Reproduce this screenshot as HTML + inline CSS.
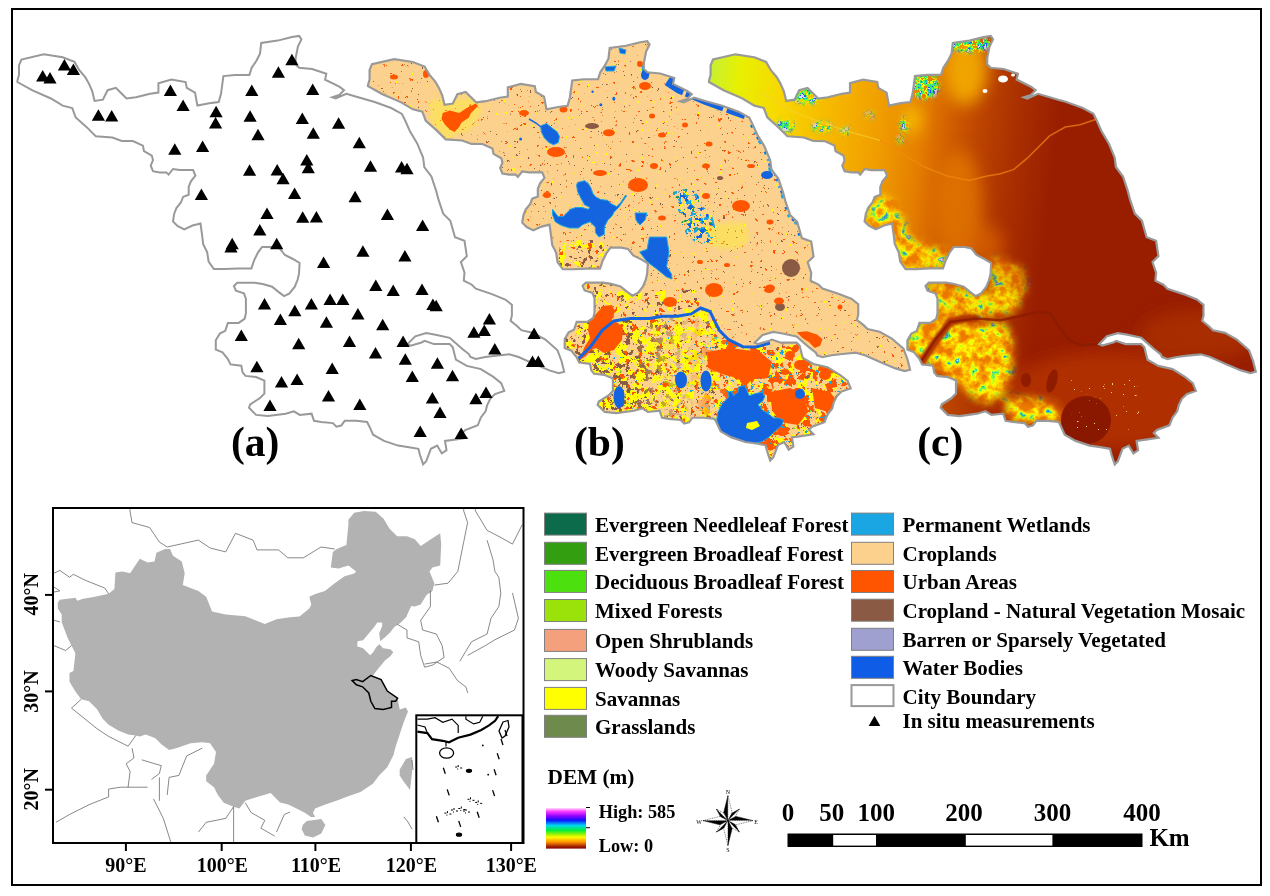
<!DOCTYPE html><html><head><meta charset="utf-8"><title>Study area</title><style>html,body{margin:0;padding:0;background:#fff;width:1270px;height:896px;overflow:hidden}svg{display:block}text{font-family:"Liberation Serif","Times New Roman",serif;font-weight:bold;fill:#000}</style></head><body>
<svg width="1270" height="896" viewBox="0 0 1270 896">
<defs>
<path id="js" d="M709.0,80.8 L710.6,74.9 L710.6,65.4 L713.0,59.5 L735.4,54.3 L754.3,57.2 L766.1,61.9 L770.9,70.2 L776.8,77.2 L780.3,83.2 L783.9,91.4 L786.2,100.9 L794.5,99.7 L799.2,90.2 L807.5,87.9 L813.4,93.8 L818.1,98.5 L827.6,97.3 L841.7,93.8 L850.0,92.6 L850.0,83.2 L863.0,79.6 L877.2,82.0 L878.4,87.9 L886.6,92.6 L889.0,105.6 L900.8,103.2 L910.3,102.0 L912.6,93.8 L915.0,76.1 L926.8,74.9 L941.0,74.9 L943.3,67.8 L948.0,60.7 L951.6,53.6 L952.8,43.0 L969.3,40.6 L983.5,37.1 L990.7,35.9 L993.0,39.4 L989.5,46.5 L987.2,58.3 L987.2,64.3 L990.7,67.8 L1003.7,69.0 L1017.9,73.7 L1016.7,79.6 L1030.9,86.7 L1035.6,90.2 L1030.9,95.0 L1023.8,97.3 L1027.3,98.5 L1038.0,93.8 L1049.8,97.3 L1066.3,102.0 L1082.8,108.0 L1093.5,113.9 L1097.0,121.0 L1101.7,131.6 L1108.8,143.4 L1114.7,157.6 L1115.9,167.0 L1123.0,176.5 L1127.7,190.6 L1130.0,199.4 L1134.8,213.6 L1141.9,220.7 L1146.6,237.2 L1156.1,240.8 L1158.4,256.1 L1152.5,262.0 L1156.1,272.7 L1155.4,280.7 L1163.4,284.7 L1167.4,288.7 L1183.5,294.1 L1196.9,299.5 L1203.5,304.8 L1203.5,315.5 L1202.2,320.9 L1208.9,326.2 L1212.9,330.2 L1225.0,332.9 L1237.0,339.6 L1249.1,350.3 L1253.1,361.0 L1255.8,371.7 L1250.4,373.1 L1241.0,370.4 L1225.0,363.7 L1210.2,357.0 L1200.9,354.3 L1187.5,355.7 L1176.8,357.0 L1167.4,359.0 L1162.0,357.0 L1160.7,354.3 L1154.0,349.0 L1141.3,337.8 L1127.2,334.7 L1117.8,333.1 L1106.9,336.3 L1099.1,344.1 L1102.2,345.6 L1113.1,342.5 L1116.3,340.9 L1125.6,344.1 L1141.3,344.1 L1144.4,347.2 L1145.9,353.4 L1147.5,359.7 L1158.4,365.9 L1172.5,369.1 L1185.0,376.9 L1192.8,383.1 L1195.9,390.9 L1186.6,394.1 L1181.9,398.8 L1178.8,405.0 L1177.2,411.3 L1172.5,417.5 L1169.4,425.3 L1156.9,430.0 L1153.8,433.1 L1158.4,437.8 L1147.5,439.4 L1136.6,440.9 L1138.1,450.3 L1133.4,453.4 L1128.8,445.6 L1122.5,448.8 L1117.8,461.3 L1114.7,464.4 L1111.6,455.0 L1110.0,448.8 L1100.6,447.2 L1089.7,445.6 L1075.6,440.9 L1064.7,434.7 L1061.1,426.7 L1058.7,422.0 L1048.1,420.8 L1036.3,420.8 L1032.8,425.5 L1028.0,426.7 L1024.5,423.1 L1012.7,422.0 L1005.6,420.8 L1003.2,413.7 L991.4,414.9 L985.5,411.3 L977.2,413.7 L959.5,416.1 L947.7,414.9 L940.6,407.8 L941.8,404.3 L951.3,398.3 L956.0,393.6 L956.0,380.6 L947.7,377.1 L937.1,375.9 L934.2,372.4 L932.9,365.7 L922.1,364.4 L919.5,359.0 L914.1,352.3 L907.4,349.6 L907.4,340.3 L911.4,333.6 L916.8,330.9 L919.5,322.9 L930.2,322.9 L936.2,318.8 L937.5,313.5 L937.5,298.7 L935.5,293.4 L927.5,290.7 L925.5,286.0 L928.8,282.7 L936.9,282.7 L946.2,282.7 L954.3,284.0 L963.7,286.7 L970.4,292.1 L975.7,296.1 L981.1,293.4 L986.4,286.7 L989.1,280.0 L990.6,273.7 L991.2,263.0 L984.5,259.0 L976.5,255.0 L971.2,248.3 L964.5,247.0 L953.7,247.0 L949.7,252.3 L945.7,260.4 L943.0,268.4 L929.6,268.4 L916.2,269.1 L905.5,269.1 L900.2,261.7 L898.8,252.3 L894.8,244.3 L893.5,233.6 L892.1,223.5 L884.1,225.5 L875.8,229.3 L869.1,225.9 L864.6,221.5 L865.8,213.7 L868.0,208.1 L872.5,202.5 L874.7,196.9 L880.3,194.7 L880.3,186.9 L882.5,181.3 L887.0,175.7 L884.7,170.1 L871.3,170.1 L864.6,169.0 L860.2,174.6 L858.0,172.4 L851.3,172.4 L844.6,171.2 L842.3,165.7 L844.6,160.1 L843.4,155.6 L835.6,151.2 L834.5,145.6 L824.5,141.1 L813.4,141.0 L804.0,137.5 L787.4,136.3 L778.0,126.9 L767.3,117.4 L763.8,108.0 L754.3,105.6 L742.5,98.5 L723.6,90.2 L709.0,82.0 Z"/>
<clipPath id="clipB"><use href="#js" transform="translate(-334.903,5.972) scale(0.9914,0.9785)"/></clipPath>
<clipPath id="clipC"><use href="#js"/></clipPath>
<linearGradient id="demg" gradientUnits="userSpaceOnUse" x1="712" y1="70" x2="1060" y2="110">
<stop offset="0" stop-color="#c8f030"/>
<stop offset="0.08" stop-color="#e8f000"/>
<stop offset="0.2" stop-color="#f8d800"/>
<stop offset="0.35" stop-color="#f6b800"/>
<stop offset="0.5" stop-color="#f09c00"/>
<stop offset="0.62" stop-color="#e47c00"/>
<stop offset="0.7" stop-color="#d05c00"/>
<stop offset="0.78" stop-color="#bc4400"/>
<stop offset="0.88" stop-color="#aa3000"/>
<stop offset="1" stop-color="#991e00"/>
</linearGradient>
<linearGradient id="ramp" x1="0" y1="0" x2="0" y2="1">
<stop offset="0" stop-color="#ffe0ff"/>
<stop offset="0.08" stop-color="#ff40ff"/>
<stop offset="0.2" stop-color="#9000ff"/>
<stop offset="0.3" stop-color="#1010ff"/>
<stop offset="0.43" stop-color="#00d8f0"/>
<stop offset="0.55" stop-color="#00f040"/>
<stop offset="0.65" stop-color="#a0f000"/>
<stop offset="0.72" stop-color="#ffff00"/>
<stop offset="0.84" stop-color="#ff9000"/>
<stop offset="0.95" stop-color="#a02000"/>
<stop offset="1" stop-color="#800000"/>
</linearGradient>
<filter id="blur1" x="-30%" y="-30%" width="160%" height="160%"><feGaussianBlur stdDeviation="0.8"/></filter><filter id="blur2" x="-20%" y="-20%" width="140%" height="140%"><feGaussianBlur stdDeviation="2"/></filter>
<filter id="blur4" x="-30%" y="-30%" width="160%" height="160%"><feGaussianBlur stdDeviation="4"/></filter>
<filter id="blur8" x="-40%" y="-40%" width="180%" height="180%"><feGaussianBlur stdDeviation="8"/></filter>
</defs>
<rect x="12" y="9" width="1249" height="876" fill="none" stroke="#000" stroke-width="2"/>
<use href="#js" transform="translate(-691.6,0)" fill="#fff" stroke="#999" stroke-width="2"/>
<path d="M42.7,70.1L49.3,81.6L36.1,81.6ZM50.0,71.9L56.6,83.4L43.4,83.4ZM64.4,59.0L71.0,70.5L57.8,70.5ZM73.4,63.6L80.0,75.1L66.8,75.1ZM98.4,109.2L105.0,120.7L91.8,120.7ZM111.7,110.1L118.3,121.6L105.1,121.6ZM170.4,84.6L177.0,96.1L163.8,96.1ZM183.1,99.4L189.7,110.9L176.5,110.9ZM216.1,105.7L222.7,117.2L209.5,117.2ZM215.6,116.9L222.2,128.4L209.0,128.4ZM251.8,84.6L258.4,96.1L245.2,96.1ZM250.1,110.3L256.7,121.8L243.5,121.8ZM258.0,128.7L264.6,140.2L251.4,140.2ZM278.4,66.2L285.0,77.7L271.8,77.7ZM291.9,53.8L298.5,65.3L285.3,65.3ZM312.7,83.6L319.3,95.1L306.1,95.1ZM302.3,112.4L308.9,123.9L295.7,123.9ZM313.3,127.2L319.9,138.7L306.7,138.7ZM338.6,117.3L345.2,128.8L332.0,128.8ZM174.8,143.2L181.4,154.7L168.2,154.7ZM202.6,140.4L209.2,151.9L196.0,151.9ZM249.6,164.3L256.2,175.8L243.0,175.8ZM277.2,164.0L283.8,175.5L270.6,175.5ZM283.1,172.7L289.7,184.2L276.5,184.2ZM306.8,153.9L313.4,165.4L300.2,165.4ZM308.3,161.8L314.9,173.3L301.7,173.3ZM359.3,136.8L365.9,148.3L352.7,148.3ZM370.5,160.2L377.1,171.7L363.9,171.7ZM401.6,161.0L408.2,172.5L395.0,172.5ZM407.0,162.7L413.6,174.2L400.4,174.2ZM355.1,190.8L361.7,202.3L348.5,202.3ZM387.4,208.4L394.0,219.9L380.8,219.9ZM422.6,219.6L429.2,231.1L416.0,231.1ZM201.4,188.4L208.0,199.9L194.8,199.9ZM294.6,187.5L301.2,199.0L288.0,199.0ZM267.0,207.6L273.6,219.1L260.4,219.1ZM302.7,211.3L309.3,222.8L296.1,222.8ZM316.4,211.0L323.0,222.5L309.8,222.5ZM259.8,224.0L266.4,235.5L253.2,235.5ZM232.2,237.7L238.8,249.2L225.6,249.2ZM231.0,241.1L237.6,252.6L224.4,252.6ZM276.7,237.7L283.3,249.2L270.1,249.2ZM362.9,245.3L369.5,256.8L356.3,256.8ZM323.6,256.5L330.2,268.0L317.0,268.0ZM375.8,279.6L382.4,291.1L369.2,291.1ZM264.5,298.0L271.1,309.5L257.9,309.5ZM311.4,298.0L318.0,309.5L304.8,309.5ZM330.1,293.5L336.7,305.0L323.5,305.0ZM342.8,293.5L349.4,305.0L336.2,305.0ZM294.8,304.7L301.4,316.2L288.2,316.2ZM357.9,308.0L364.5,319.5L351.3,319.5ZM280.4,313.4L287.0,324.9L273.8,324.9ZM404.9,250.0L411.5,261.5L398.3,261.5ZM393.2,284.4L399.8,295.9L386.6,295.9ZM422.0,283.5L428.6,295.0L415.4,295.0ZM432.9,298.6L439.5,310.1L426.3,310.1ZM436.2,299.7L442.8,311.2L429.6,311.2ZM382.7,318.7L389.3,330.2L376.1,330.2ZM349.5,335.4L356.1,346.9L342.9,346.9ZM403.1,335.4L409.7,346.9L396.5,346.9ZM375.5,347.1L382.1,358.6L368.9,358.6ZM405.3,353.3L411.9,364.8L398.7,364.8ZM437.4,357.2L444.0,368.7L430.8,368.7ZM412.3,370.5L418.9,382.0L405.7,382.0ZM452.5,369.7L459.1,381.2L445.9,381.2ZM489.4,313.1L496.0,324.6L482.8,324.6ZM473.9,326.2L480.5,337.7L467.3,337.7ZM484.3,324.5L490.9,336.0L477.7,336.0ZM494.8,342.9L501.4,354.4L488.2,354.4ZM534.1,327.5L540.7,339.0L527.5,339.0ZM532.5,355.5L539.1,367.0L525.9,367.0ZM538.3,355.5L544.9,367.0L531.7,367.0ZM326.4,316.2L333.0,327.7L319.8,327.7ZM241.3,329.6L247.9,341.1L234.7,341.1ZM298.7,337.7L305.3,349.2L292.1,349.2ZM256.9,360.8L263.5,372.3L250.3,372.3ZM332.2,362.4L338.8,373.9L325.6,373.9ZM281.5,376.1L288.1,387.6L274.9,387.6ZM297.1,373.6L303.7,385.1L290.5,385.1ZM328.5,389.9L335.1,401.4L321.9,401.4ZM270.0,399.6L276.6,411.1L263.4,411.1ZM359.8,398.4L366.4,409.9L353.2,409.9ZM432.4,391.9L439.0,403.4L425.8,403.4ZM440.0,406.5L446.6,418.0L433.4,418.0ZM420.2,425.4L426.8,436.9L413.6,436.9ZM461.2,427.6L467.8,439.1L454.6,439.1ZM475.9,392.8L482.5,404.3L469.3,404.3ZM486.0,386.4L492.6,397.9L479.4,397.9Z" fill="#000"/>
<g clip-path="url(#clipB)">
<rect x="360" y="30" width="560" height="440" fill="#fbd18d"/>
<rect x="360" y="30" width="560" height="440" filter="url(#sbo)"/>
<rect x="360" y="30" width="560" height="440" filter="url(#sby)"/>
<rect x="360" y="30" width="560" height="440" filter="url(#sbb)"/>
<path d="M430.0,100.0 L478.0,98.0 L482.0,112.0 L470.0,130.0 L445.0,138.0 L432.0,125.0 Z" fill="#ffff00" opacity="0.3" filter="url(#blur2)"/>
<path d="M705.0,225.0 L745.0,222.0 L750.0,240.0 L735.0,250.0 L710.0,246.0 Z" fill="#ffff00" opacity="0.3" filter="url(#blur2)"/>
<clipPath id="mixc"><path d="M555.0,330.0 L578.0,358.0 L590.0,346.0 L602.0,330.0 L614.0,321.0 L630.0,318.0 L649.0,318.0 L663.0,316.0 L677.0,316.0 L691.0,314.0 L700.0,308.0 L710.0,311.0 L715.0,321.0 L729.0,340.0 L743.0,347.0 L756.0,347.0 L797.0,344.0 L812.0,360.0 L840.0,372.0 L860.0,385.0 L920.0,400.0 L920.0,475.0 L555.0,475.0 Z"/></clipPath>
<clipPath id="mix2c"><path d="M560.0,240.0 L600.0,240.0 L640.0,290.0 L700.0,290.0 L700.0,308.0 L691.0,314.0 L663.0,316.0 L614.0,321.0 L602.0,330.0 L590.0,346.0 L578.0,358.0 L555.0,330.0 Z"/></clipPath>
<linearGradient id="gW" gradientUnits="userSpaceOnUse" x1="630" y1="0" x2="700" y2="0"><stop offset="0" stop-color="#fff"/><stop offset="1" stop-color="#000"/></linearGradient>
<linearGradient id="gE" gradientUnits="userSpaceOnUse" x1="690" y1="0" x2="730" y2="0"><stop offset="0" stop-color="#000"/><stop offset="1" stop-color="#fff"/></linearGradient>
<mask id="mW" maskUnits="userSpaceOnUse" x="360" y="30" width="560" height="440"><rect x="360" y="30" width="560" height="440" fill="url(#gW)"/></mask>
<mask id="mE" maskUnits="userSpaceOnUse" x="360" y="30" width="560" height="440"><rect x="360" y="30" width="560" height="440" fill="url(#gE)"/></mask>
<g clip-path="url(#mixc)">
<rect x="360" y="30" width="560" height="440" filter="url(#smy)"/>
<g mask="url(#mW)">
<rect x="360" y="30" width="560" height="440" filter="url(#smy2)"/>
<rect x="360" y="30" width="560" height="440" filter="url(#smb)"/>
</g>
<rect x="360" y="30" width="560" height="440" filter="url(#smb2)"/>
<rect x="360" y="30" width="560" height="440" filter="url(#smo)"/>
<g mask="url(#mE)">
<rect x="360" y="30" width="560" height="440" filter="url(#smo2)"/>
<rect x="360" y="30" width="560" height="440" filter="url(#smg2)"/>
</g>
<rect x="360" y="30" width="560" height="440" filter="url(#smg)"/>
<rect x="360" y="30" width="560" height="440" filter="url(#smn)"/>
</g>
<g clip-path="url(#mix2c)">
<rect x="360" y="30" width="560" height="440" filter="url(#s2y)"/>
<rect x="360" y="30" width="560" height="440" filter="url(#s2b)"/>
<rect x="360" y="30" width="560" height="440" filter="url(#s2o)"/>
</g>
<clipPath id="wetc"><path d="M672.0,192.0 L690.0,188.0 L698.0,195.0 L702.0,205.0 L712.0,215.0 L716.0,230.0 L712.0,242.0 L700.0,244.0 L688.0,238.0 L682.0,225.0 L678.0,210.0 Z"/></clipPath>
<g clip-path="url(#wetc)">
<rect x="360" y="30" width="560" height="440" filter="url(#swc)"/>
<rect x="360" y="30" width="560" height="440" filter="url(#swb)"/>
<rect x="360" y="30" width="560" height="440" filter="url(#swy)"/>
<rect x="360" y="30" width="560" height="440" filter="url(#swg)"/>
</g>
<ellipse cx="592" cy="126" rx="7" ry="3" fill="#8b5a44" />
<ellipse cx="791" cy="268" rx="9" ry="9" fill="#8b5a44" />
<ellipse cx="780" cy="307" rx="5" ry="4" fill="#8b5a44" />
<ellipse cx="720" cy="178" rx="3" ry="2" fill="#8b5a44" />
<path d="M442.7,113.0 L449.8,110.6 L459.2,113.0 L466.3,108.2 L475.7,103.5 L478.1,105.9 L471.0,113.0 L468.7,117.7 L461.6,122.4 L459.2,127.1 L454.5,131.9 L449.8,129.5 L445.0,124.8 L441.5,118.9 Z" fill="#ff5500"/>
<path d="M796.8,332.3 L806.8,331.2 L816.9,334.5 L822.5,339.0 L820.2,345.7 L814.7,347.9 L809.1,342.3 L802.4,337.9 Z" fill="#ff5500"/>
<path d="M589.0,322.0 L596.0,314.0 L603.0,306.0 L612.0,305.0 L615.0,312.0 L610.0,320.0 L618.0,323.0 L623.0,328.0 L622.0,340.0 L614.0,350.0 L604.0,353.0 L596.0,348.0 L591.0,350.0 L586.0,356.0 L580.0,360.0 L584.0,348.0 L590.0,338.0 L588.0,330.0 Z" fill="#ff5500"/>
<path d="M707.0,352.0 L730.0,348.0 L760.0,352.0 L772.0,362.0 L768.0,378.0 L745.0,380.0 L725.0,375.0 L708.0,368.0 Z" fill="#ff5500"/>
<path d="M770.0,392.0 L790.0,388.0 L805.0,395.0 L808.0,412.0 L798.0,425.0 L780.0,422.0 L772.0,410.0 Z" fill="#ff5500"/>
<path d="M812.0,388.0 L830.0,392.0 L838.0,402.0 L828.0,412.0 L815.0,408.0 Z" fill="#ff5500"/>
<ellipse cx="394" cy="77" rx="4" ry="2.5" fill="#ff5500" />
<ellipse cx="426" cy="74" rx="3" ry="4" fill="#ff5500" />
<ellipse cx="524" cy="113" rx="5" ry="3" fill="#ff5500" />
<ellipse cx="563.5" cy="109.5" rx="4" ry="3" fill="#ff5500" />
<ellipse cx="556" cy="152" rx="9" ry="5" fill="#ff5500" />
<ellipse cx="608.9" cy="132.7" rx="6" ry="3.5" fill="#ff5500" />
<ellipse cx="600" cy="173" rx="7" ry="3" fill="#ff5500" />
<ellipse cx="638" cy="185" rx="10" ry="7" fill="#ff5500" />
<ellipse cx="645" cy="86" rx="6" ry="4" fill="#ff5500" />
<ellipse cx="640" cy="64" rx="3" ry="3" fill="#ff5500" />
<ellipse cx="741" cy="206" rx="9" ry="6" fill="#ff5500" />
<ellipse cx="770" cy="288" rx="5" ry="3.5" fill="#ff5500" />
<ellipse cx="779" cy="301" rx="5" ry="3.5" fill="#ff5500" />
<ellipse cx="840" cy="307" rx="2.5" ry="2.5" fill="#ff5500" />
<ellipse cx="608" cy="316" rx="6" ry="4" fill="#ff5500" />
<ellipse cx="670" cy="302" rx="7" ry="5" fill="#ff5500" />
<ellipse cx="714" cy="290" rx="9" ry="7" fill="#ff5500" />
<ellipse cx="800" cy="365" rx="6" ry="5" fill="#ff5500" />
<ellipse cx="790" cy="355" rx="5" ry="4" fill="#ff5500" />
<ellipse cx="825" cy="375" rx="6" ry="5" fill="#ff5500" />
<ellipse cx="785" cy="372" rx="4" ry="3" fill="#ff5500" />
<ellipse cx="769" cy="290" rx="5" ry="3" fill="#ff5500" />
<ellipse cx="547" cy="195" rx="4" ry="3" fill="#ff5500" />
<ellipse cx="662" cy="135" rx="4" ry="2.5" fill="#ff5500" />
<ellipse cx="652" cy="116" rx="3" ry="2.5" fill="#ff5500" />
<ellipse cx="685" cy="125" rx="3" ry="2.5" fill="#ff5500" />
<ellipse cx="709" cy="144" rx="3.5" ry="2.5" fill="#ff5500" />
<ellipse cx="654" cy="166" rx="4" ry="3" fill="#ff5500" />
<ellipse cx="706" cy="166" rx="4" ry="2.5" fill="#ff5500" />
<ellipse cx="751" cy="166" rx="4" ry="2" fill="#ff5500" />
<ellipse cx="706" cy="196" rx="4" ry="3" fill="#ff5500" />
<ellipse cx="662" cy="218" rx="4" ry="2.5" fill="#ff5500" />
<ellipse cx="770" cy="222" rx="3.5" ry="2.5" fill="#ff5500" />
<ellipse cx="727" cy="265" rx="3" ry="2" fill="#ff5500" />
<ellipse cx="700" cy="262" rx="3" ry="2" fill="#ff5500" />
<polyline points="668,80 680,88 690,92 706,99 731,108 748,114" fill="none" stroke="#1464e0" stroke-width="12" stroke-dasharray="19,3,40,4"/>
<path d="M752.7,124.4 L757.3,134.7 L764.4,146.3 L770.2,160.2 L771.4,169.4 L778.4,178.7 L783.1,192.5 L785.4,201.1 L790.1,215.0 L797.2,221.9 L801.8,238.1" fill="none" stroke="#1aa6e2" stroke-width="6" stroke-dasharray="3,5,2,7,4,9"/>
<path d="M752.7,124.4 L757.3,134.7 L764.4,146.3 L770.2,160.2 L771.4,169.4 L778.4,178.7 L783.1,192.5 L785.4,201.1 L790.1,215.0 L797.2,221.9 L801.8,238.1" fill="none" stroke="#1464e0" stroke-width="5" stroke-dasharray="2,11,3,14"/>
<path d="M540.7,125.9 L546.5,123.5 L552.4,128.3 L557.1,131.8 L559.5,136.5 L558.3,142.5 L553.6,144.8 L548.9,142.5 L544.2,137.7 L541.3,131.8 Z" fill="#1464e0" stroke="#1aa6e2" stroke-width="1"/>
<path d="M577.5,182.5 L584.6,180.7 L588.2,183.4 L590.9,187.9 L592.7,193.2 L595.4,196.8 L600.7,199.5 L607.9,200.4 L611.4,203.9 L616.8,206.6 L620.4,203.0 L625.7,195.0 L626.5,196.0 L618.6,207.5 L614.1,212.0 L612.3,215.5 L607.9,220.0 L604.3,227.1 L604.3,234.3 L598.9,237.0 L595.4,232.5 L595.4,227.1 L590.0,221.8 L582.9,224.5 L578.4,228.0 L569.5,228.0 L561.4,225.4 L555.2,221.8 L552.5,214.6 L552.5,209.3 L557.9,216.4 L563.2,216.4 L570.4,209.3 L575.7,207.5 L582.0,207.5 L588.2,209.3 L590.0,207.5 L584.6,204.8 L581.1,198.6 L577.5,191.4 L576.6,185.2 Z" fill="#1464e0" stroke="#1aa6e2" stroke-width="1"/>
<path d="M649.4,237.1 L666.6,237.1 L669.0,251.9 L666.6,266.6 L671.5,274.0 L672.0,279.0 L666.6,277.0 L656.8,269.0 L647.0,261.7 L639.6,251.9 L647.0,249.4 Z" fill="#1464e0" stroke="#1aa6e2" stroke-width="1"/>
<path d="M635.0,213.0 L647.0,213.0 L645.0,220.0 L640.0,225.0 L636.0,220.0 Z" fill="#1464e0" stroke="#1aa6e2" stroke-width="1"/>
<path d="M717.9,412.4 L722.3,403.5 L729.0,396.8 L727.9,392.3 L731.3,391.2 L733.5,395.7 L737.9,392.3 L739.1,386.7 L744.6,385.6 L746.9,390.1 L749.1,395.7 L755.8,393.4 L762.5,392.3 L764.7,396.8 L762.5,401.3 L758.0,404.6 L762.5,410.2 L769.2,414.6 L773.7,418.0 L778.1,418.0 L783.7,420.2 L781.5,425.8 L775.9,430.3 L769.2,437.0 L762.5,441.4 L753.6,443.7 L742.4,442.5 L731.3,439.2 L723.4,434.7 L719.0,428.0 L716.7,420.2 Z" fill="#1464e0" stroke="#1aa6e2" stroke-width="1"/>
<path d="M642.0,66.0 L650.0,67.0 L649.0,75.0 L643.0,74.0 Z" fill="#1464e0" stroke="#1aa6e2" stroke-width="1"/>
<path d="M619.0,48.0 L626.0,50.0 L625.0,54.0 L620.0,53.0 Z" fill="#1464e0" stroke="#1aa6e2" stroke-width="1"/>
<path d="M605.0,67.0 L616.0,66.0 L614.0,71.0 L606.0,71.0 Z" fill="#1464e0" stroke="#1aa6e2" stroke-width="1"/>
<ellipse cx="600.8" cy="104.7" rx="1.5" ry="1.5" fill="#1464e0" />
<ellipse cx="592.6" cy="91.7" rx="1.2" ry="1.2" fill="#1464e0" />
<ellipse cx="613.8" cy="98.8" rx="1.5" ry="2" fill="#1464e0" />
<ellipse cx="520.6" cy="138.9" rx="1.5" ry="1.5" fill="#1464e0" />
<ellipse cx="645" cy="75" rx="4" ry="5" fill="#1464e0" />
<ellipse cx="681" cy="380" rx="6" ry="8.5" fill="#1464e0" />
<ellipse cx="706" cy="381" rx="5.5" ry="10.5" fill="#1464e0" />
<ellipse cx="619" cy="397" rx="5.5" ry="11" fill="#1464e0" />
<ellipse cx="800" cy="394" rx="5" ry="5" fill="#1464e0" />
<ellipse cx="767" cy="175" rx="6" ry="4" fill="#1464e0" />
<path d="M747,423 L757,421 L760,426 L752,430 L746,428Z" fill="#ffff00"/>
<path d="M529,119 L536,123 L541,127" fill="none" stroke="#1464e0" stroke-width="1.5"/>
<path d="M578.7,358.4 L590.5,346.7 L602.2,330.3 L613.9,320.9 L630.3,318.6 L649.0,318.6 L663.1,316.2 L677.2,316.2 L691.2,313.9 L700.6,308.0 L710.0,311.5 L714.6,320.9 L719.3,330.3 L728.7,339.7 L742.8,346.7 L756.0,347.0 L770.0,343.0" fill="none" stroke="#1464e0" stroke-width="3"/>
</g>
<use href="#js" transform="translate(-334.903,5.972) scale(0.9914,0.9785)" fill="none" stroke="#999" stroke-width="2.2"/>
<mask id="hillm" maskUnits="userSpaceOnUse" x="700" y="30" width="570" height="440"><g filter="url(#blur4)">
<path d="M988.0,262.0 L1000.0,258.0 L1022.0,268.0 L1026.0,290.0 L1018.0,304.0 L1000.0,300.0 L990.0,288.0 Z" fill="#fff" fill-opacity="0.75"/>
<path d="M908.0,330.0 L925.0,321.0 L940.0,318.0 L960.0,323.0 L985.0,324.0 L1003.0,322.0 L1012.0,335.0 L1013.0,360.0 L1010.0,380.0 L1004.0,394.0 L996.0,400.0 L985.0,404.0 L972.0,396.0 L958.0,386.0 L946.0,376.0 L935.0,366.0 L920.0,361.0 L908.0,352.0 Z" fill="#fff" fill-opacity="1.0"/>
<path d="M925.0,283.0 L945.0,283.0 L960.0,287.0 L975.0,291.0 L1008.0,292.0 L1020.0,300.0 L1016.0,312.0 L990.0,316.0 L962.0,318.0 L942.0,318.0 L930.0,302.0 Z" fill="#fff" fill-opacity="0.9"/>
<path d="M1003.0,400.0 L1030.0,398.0 L1055.0,404.0 L1063.0,417.0 L1058.0,426.0 L1040.0,424.0 L1010.0,421.0 Z" fill="#fff" fill-opacity="1.0"/>
<path d="M866.0,200.0 L890.0,196.0 L900.0,212.0 L910.0,238.0 L930.0,247.0 L946.0,249.0 L948.0,269.0 L905.0,270.0 L895.0,256.0 L884.0,240.0 L868.0,226.0 Z" fill="#fff" fill-opacity="0.9"/>
</g></mask>
<g clip-path="url(#clipC)">
<rect x="700" y="30" width="570" height="440" fill="url(#demg)"/>
<g filter="url(#blur8)">
<ellipse cx="965" cy="70" rx="22" ry="35" fill="#f0a400"/>
<ellipse cx="912" cy="120" rx="8" ry="14" fill="#f8c800"/>
<ellipse cx="1110" cy="400" rx="110" ry="48" fill="#b43400" opacity="0.85"/>
<ellipse cx="958" cy="205" rx="24" ry="55" fill="#e07400" opacity="0.85"/>
<ellipse cx="985" cy="245" rx="18" ry="20" fill="#d86400" opacity="0.7"/>
<ellipse cx="1200" cy="335" rx="60" ry="25" fill="#ae3200" opacity="0.7"/>
</g>
<mask id="gspm" maskUnits="userSpaceOnUse" x="700" y="30" width="570" height="440"><g filter="url(#blur2)" fill="#fff">
<ellipse cx="808" cy="96" rx="14" ry="8" fill-opacity="1"/>
<ellipse cx="785" cy="126" rx="10" ry="6" fill-opacity="1"/>
<ellipse cx="822" cy="127" rx="10" ry="5" fill-opacity="1"/>
<ellipse cx="845" cy="131" rx="6" ry="4" fill-opacity="0.8"/>
<ellipse cx="925" cy="86" rx="14" ry="13" fill-opacity="1"/>
<ellipse cx="925" cy="86" rx="9" ry="8" fill-opacity="1"/>
<ellipse cx="970" cy="44" rx="22" ry="8" fill-opacity="1"/>
<ellipse cx="904" cy="125" rx="4" ry="8" fill-opacity="0.9"/>
<ellipse cx="900" cy="140" rx="3" ry="4" fill-opacity="0.8"/>
<ellipse cx="760" cy="120" rx="6" ry="4" fill-opacity="0.6"/>
<ellipse cx="870" cy="115" rx="6" ry="4" fill-opacity="0.5"/>
</g></mask>
<rect x="700" y="30" width="570" height="440" filter="url(#gspk)" mask="url(#gspm)"/>
<rect x="700" y="30" width="570" height="440" filter="url(#hilln)" mask="url(#hillm)"/>
<g fill="#fff"><ellipse cx="1003" cy="79" rx="5" ry="3.5"/><ellipse cx="985" cy="91" rx="2.5" ry="2"/><ellipse cx="1013" cy="75" rx="2" ry="1.5"/><ellipse cx="1165" cy="56" rx="1.5" ry="1.5"/></g>
<ellipse cx="1086" cy="420" rx="25" ry="24" fill="#8a1800"/>
<ellipse cx="1026" cy="380" rx="5" ry="7" fill="#901c00"/>
<ellipse cx="1052" cy="381" rx="5" ry="12" fill="#901c00" transform="rotate(15 1052 381)"/>
<path d="M919,366 L935,342 L950.2,322 L964,318.5 L975.4,318.5" fill="none" stroke="#b33600" stroke-width="8" stroke-linecap="round" filter="url(#blur1)"/>
<path d="M921.8,360.4 L935.0,340.0 L950.2,321.9 L975.4,318.5 L1000.5,320.2 L1017.2,316.8 L1039.0,311.8 L1050.7,313.5 L1059.0,326.9 L1067.4,338.6 L1080.0,345.3 L1099.0,344.0" fill="none" stroke="#8a1c00" stroke-width="2.5" stroke-opacity="0.8"/>
<path d="M880,140.4 L902.3,153.8 L924.6,167.1 L947,176 L969.3,180.5 L987.1,176 L1000.5,173.8 L1013.9,169.4 L1027.3,158.2 L1036.3,149.3 L1049.6,135.9 L1065.3,127 L1080,124.7 L1100,118" fill="none" stroke="#f08a10" stroke-width="1.6" stroke-opacity="0.7"/>
<path d="M760,92 L790,110 L820,122 L850,132 L880,140.4" fill="none" stroke="#f8d030" stroke-width="1.5" stroke-opacity="0.6"/>
<rect x="1070" y="380" width="70" height="50" filter="url(#cty)"/>
</g>
<use href="#js" fill="none" stroke="#999" stroke-width="2.2"/>
<text x="231" y="456" font-size="41.5">(a)</text>
<text x="574" y="455.5" font-size="41.5">(b)</text>
<text x="917.3" y="455.5" font-size="41.5">(c)</text>
<rect x="544.5" y="513.1" width="42" height="22" fill="#0b6b4b" stroke="#808080" stroke-width="1"/>
<text x="595" y="531.8" font-size="21">Evergreen Needleleaf Forest</text>
<rect x="544.5" y="542.3" width="42" height="22" fill="#339e10" stroke="#808080" stroke-width="1"/>
<text x="595" y="561.0" font-size="21">Evergreen Broadleaf Forest</text>
<rect x="544.5" y="570.4" width="42" height="22" fill="#4ce10e" stroke="#808080" stroke-width="1"/>
<text x="595" y="589.1" font-size="21">Deciduous Broadleaf Forest</text>
<rect x="544.5" y="599.5" width="42" height="22" fill="#9ae20a" stroke="#808080" stroke-width="1"/>
<text x="595" y="618.2" font-size="21">Mixed Forests</text>
<rect x="544.5" y="629.4" width="42" height="22" fill="#f4a07c" stroke="#808080" stroke-width="1"/>
<text x="595" y="648.1" font-size="21">Open Shrublands</text>
<rect x="544.5" y="658.6" width="42" height="22" fill="#d4f57c" stroke="#808080" stroke-width="1"/>
<text x="595" y="677.3" font-size="21">Woody Savannas</text>
<rect x="544.5" y="687.4" width="42" height="22" fill="#ffff00" stroke="#808080" stroke-width="1"/>
<text x="595" y="706.1" font-size="21">Savannas</text>
<rect x="544.5" y="715.3" width="42" height="22" fill="#6e8a4c" stroke="#808080" stroke-width="1"/>
<text x="595" y="734.0" font-size="21">Grasslands</text>
<rect x="851.5" y="513.1" width="42" height="22" fill="#1aa6e2" stroke="#808080" stroke-width="1"/>
<text x="902.5" y="531.8" font-size="21">Permanent Wetlands</text>
<rect x="851.5" y="542.3" width="42" height="22" fill="#fcd18e" stroke="#808080" stroke-width="1"/>
<text x="902.5" y="561.0" font-size="21">Croplands</text>
<rect x="851.5" y="570.5" width="42" height="22" fill="#ff5500" stroke="#808080" stroke-width="1"/>
<text x="902.5" y="589.2" font-size="21">Urban Areas</text>
<rect x="851.5" y="599.2" width="42" height="22" fill="#8b5a44" stroke="#808080" stroke-width="1"/>
<text x="902.5" y="617.9" font-size="21">Cropland - Natural Vegetation Mosaic</text>
<rect x="851.5" y="628.3" width="42" height="22" fill="#a0a0d0" stroke="#808080" stroke-width="1"/>
<text x="902.5" y="647.0" font-size="21">Barren or Sparsely Vegetated</text>
<rect x="851.5" y="656.3" width="42" height="22" fill="#0f5ce6" stroke="#808080" stroke-width="1"/>
<text x="902.5" y="675.0" font-size="21">Water Bodies</text>
<rect x="851.5" y="685.1" width="42" height="21" fill="#ffffff" stroke="#999" stroke-width="2"/>
<text x="902.5" y="703.8" font-size="21">City Boundary</text>
<path d="M874.5,715.8 L880.3,726 L868.7,726 Z" fill="#000"/>
<text x="902.5" y="727.6" font-size="21">In situ measurements</text>
<text x="547.5" y="784" font-size="21.3">DEM (m)</text>
<rect x="546" y="808" width="40" height="40.6" fill="url(#ramp)"/>
<path d="M586,807.5h4M586,827.7h4" stroke="#000" stroke-width="1"/>
<text x="598.7" y="817.7" font-size="18.3">High: 585</text>
<text x="598.7" y="851.5" font-size="18.3">Low: 0</text>
<path d="M727.9,820.6L729.53,814.45L739.43,809.07Z" fill="#000" stroke="#000" stroke-width="0.5"/><path d="M727.9,820.6L734.05,818.97L739.43,809.07Z" fill="#fff" stroke="#000" stroke-width="0.5" stroke-dasharray="1,0.8"/><path d="M727.9,820.6L734.05,822.23L739.43,832.13Z" fill="#000" stroke="#000" stroke-width="0.5"/><path d="M727.9,820.6L729.53,826.75L739.43,832.13Z" fill="#fff" stroke="#000" stroke-width="0.5" stroke-dasharray="1,0.8"/><path d="M727.9,820.6L726.27,826.75L716.37,832.13Z" fill="#000" stroke="#000" stroke-width="0.5"/><path d="M727.9,820.6L721.75,822.23L716.37,832.13Z" fill="#fff" stroke="#000" stroke-width="0.5" stroke-dasharray="1,0.8"/><path d="M727.9,820.6L721.75,818.97L716.37,809.07Z" fill="#000" stroke="#000" stroke-width="0.5"/><path d="M727.9,820.6L726.27,814.45L716.37,809.07Z" fill="#fff" stroke="#000" stroke-width="0.5" stroke-dasharray="1,0.8"/><path d="M727.9,820.6L723.70,812.60L727.90,795.60Z" fill="#000" stroke="#000" stroke-width="0.5"/><path d="M727.9,820.6L732.10,812.60L727.90,795.60Z" fill="#fff" stroke="#000" stroke-width="0.5" stroke-dasharray="1,0.8"/><path d="M727.9,820.6L735.90,816.40L752.90,820.60Z" fill="#000" stroke="#000" stroke-width="0.5"/><path d="M727.9,820.6L735.90,824.80L752.90,820.60Z" fill="#fff" stroke="#000" stroke-width="0.5" stroke-dasharray="1,0.8"/><path d="M727.9,820.6L732.10,828.60L727.90,845.60Z" fill="#000" stroke="#000" stroke-width="0.5"/><path d="M727.9,820.6L723.70,828.60L727.90,845.60Z" fill="#fff" stroke="#000" stroke-width="0.5" stroke-dasharray="1,0.8"/><path d="M727.9,820.6L719.90,824.80L702.90,820.60Z" fill="#000" stroke="#000" stroke-width="0.5"/><path d="M727.9,820.6L719.90,816.40L702.90,820.60Z" fill="#fff" stroke="#000" stroke-width="0.5" stroke-dasharray="1,0.8"/>
<text x="727.9" y="794" font-size="6" text-anchor="middle" style="font-weight:normal">N</text>
<text x="727.9" y="852" font-size="6" text-anchor="middle" style="font-weight:normal">S</text>
<text x="699" y="823.5" font-size="6" text-anchor="middle" style="font-weight:normal">W</text>
<text x="756" y="823.5" font-size="6" text-anchor="middle" style="font-weight:normal">E</text>
<rect x="787.5" y="833.5" width="355" height="13.5" fill="#000"/>
<rect x="833.2" y="835" width="42.8" height="10.6" fill="#fff"/>
<rect x="965.8" y="835" width="86.6" height="10.6" fill="#fff"/>
<text x="788" y="820.8" font-size="25" text-anchor="middle">0</text>
<text x="831.7" y="820.8" font-size="25" text-anchor="middle">50</text>
<text x="876.3" y="820.8" font-size="25" text-anchor="middle">100</text>
<text x="964" y="820.8" font-size="25" text-anchor="middle">200</text>
<text x="1052.4" y="820.8" font-size="25" text-anchor="middle">300</text>
<text x="1142.1" y="820.8" font-size="25" text-anchor="middle">400</text>
<text x="1149.4" y="846" font-size="25">Km</text>
<g>
<clipPath id="cmap"><rect x="53" y="508" width="470" height="335"/></clipPath>
<g clip-path="url(#cmap)">
<path d="M57.8,602.6 L59.8,599.7 L67.6,598.7 L75.4,597.8 L77.3,600.7 L83.2,598.7 L94.9,596.8 L108.6,593.8 L114.4,589.0 L115.4,572.4 L122.3,571.4 L130.1,573.3 L139.8,558.7 L147.6,562.6 L154.5,561.6 L156.4,552.8 L165.2,548.9 L170.1,548.9 L173.0,555.8 L181.8,561.6 L184.7,573.3 L182.8,585.1 L198.4,590.9 L206.2,596.8 L212.1,611.4 L225.7,614.4 L245.3,616.3 L264.8,624.1 L276.5,619.2 L289.8,617.3 L299.5,616.4 L309.3,608.6 L311.3,604.6 L309.3,596.8 L315.2,593.9 L324.9,591.0 L334.7,583.2 L344.5,576.3 L354.2,573.4 L356.2,571.4 L348.4,565.6 L338.6,568.5 L330.8,567.5 L332.8,551.9 L336.7,549.0 L346.4,545.1 L348.4,524.5 L348.4,519.7 L354.2,512.8 L364.0,510.9 L375.7,511.8 L383.6,518.7 L389.4,528.4 L397.2,536.3 L407.0,536.3 L414.8,539.2 L420.7,546.0 L432.4,538.2 L440.2,533.3 L441.2,544.1 L440.2,565.6 L432.4,567.5 L429.5,571.4 L434.4,583.2 L432.4,591.0 L426.5,594.9 L420.7,604.6 L414.8,606.6 L411.4,606.0 L409.3,610.0 L406.3,617.1 L400.3,623.1 L394.3,627.1 L390.3,632.2 L386.2,636.2 L380.2,641.2 L379.2,633.2 L382.2,626.1 L382.2,622.6 L377.2,622.6 L374.2,627.1 L368.1,634.2 L363.1,640.2 L357.6,641.2 L357.1,646.2 L363.1,648.2 L368.1,653.3 L370.2,655.3 L373.2,652.3 L376.2,647.2 L379.2,644.2 L383.2,648.2 L390.3,649.2 L393.3,652.3 L390.3,656.3 L385.2,660.3 L380.2,666.3 L375.2,672.4 L372.2,676.4 L381.0,680.0 L387.3,691.0 L397.6,698.2 L399.7,709.5 L405.9,707.5 L408.0,711.6 L403.8,721.9 L399.7,734.3 L395.6,746.7 L393.5,754.9 L387.3,767.3 L379.1,775.6 L372.9,783.8 L360.5,792.1 L348.1,796.2 L337.8,800.3 L325.4,804.5 L315.1,808.6 L313.0,812.7 L315.1,816.9 L311.0,816.9 L304.8,812.7 L296.5,808.6 L288.3,804.5 L280.0,802.4 L270.7,793.0 L257.0,796.9 L245.3,800.8 L239.4,808.6 L233.6,806.7 L223.8,802.8 L217.9,795.0 L214.0,787.2 L206.2,781.3 L206.2,775.4 L214.0,763.7 L216.0,752.0 L210.1,743.2 L202.3,742.3 L190.6,743.2 L176.9,748.1 L169.1,750.1 L161.3,744.2 L155.4,738.3 L145.7,734.4 L139.8,736.4 L135.9,735.4 L128.1,734.4 L118.3,730.5 L108.6,724.7 L102.7,718.8 L96.9,709.1 L89.1,701.2 L81.2,699.3 L75.4,691.5 L69.5,681.7 L69.5,672.9 L73.4,671.0 L75.4,653.4 L71.5,645.6 L67.6,637.8 L61.7,622.2 L61.7,614.4 L57.8,608.5 L57.8,604.6 Z" fill="#b2b2b2"/>
<path d="M302.7,825.1 L306.8,821.0 L321.3,818.9 L325.4,825.1 L321.3,833.4 L313.0,837.5 L304.8,835.4 L301.7,829.2 Z" fill="#b2b2b2"/>
<path d="M399.7,769.4 L405.9,759.1 L412.1,757.0 L412.1,771.5 L410.0,790.0 L403.8,781.8 L399.7,775.6 Z" fill="#b2b2b2"/>
<path d="M352.2,680.6 L356.4,679.6 L362.6,681.7 L370.8,675.5 L381.1,679.6 L387.3,691.0 L397.6,698.2 L395.6,701.3 L391.5,701.3 L391.5,707.5 L383.2,709.5 L374.9,708.5 L370.8,701.3 L368.8,693.0 L362.6,686.8 L356.4,684.8 Z" fill="#b2b2b2" stroke="#000" stroke-width="1.5"/>
<g fill="none" stroke="#555" stroke-width="0.7">
<path d="M130.0,508.0 L130.0,510.9 L132.0,522.6 L149.6,527.5 L159.4,542.1 L167.2,547.0 L198.4,540.1 L210.1,548.0 L225.7,551.9 L235.5,533.3 L253.1,540.1 L257.0,549.9 L278.5,549.9 L287.8,557.8 L303.4,557.8 L321.0,547.0 L334.7,549.0"/>
<path d="M53.9,573.3 L59.8,570.4 L69.5,577.3 L73.4,574.3 L85.1,580.2 L104.7,588.0 L108.6,593.8"/>
<path d="M53.9,587.0 L59.8,590.9 L54.0,592.0"/>
<path d="M53.9,620.2 L60.0,622.0"/>
<path d="M53.9,645.6 L65.6,650.5 L71.5,645.6"/>
<path d="M71.5,708.1 L81.2,699.3"/>
<path d="M71.5,708.1 L96.9,728.6 L108.6,736.4 L128.1,746.2 L135.9,735.4"/>
<path d="M55.9,822.3 L69.5,814.5 L89.1,804.7 L108.6,796.9 L108.6,789.1 L120.3,787.2 L147.6,787.2"/>
<path d="M132.0,748.1 L134.0,757.9 L126.2,763.7 L130.1,771.5 L128.1,787.2"/>
<path d="M141.8,759.8 L161.3,765.7 L159.4,773.5 L151.5,779.4"/>
<path d="M159.4,777.4 L159.4,800.8"/>
<path d="M167.2,795.0 L169.1,777.4 L178.9,775.4 L186.7,755.9 L202.3,748.1"/>
<path d="M153.5,798.9 L163.3,818.4 L171.1,843.0"/>
<path d="M198.4,832.1 L206.2,822.3 L225.7,818.4 L233.6,806.7 L233.6,843.0"/>
<path d="M245.3,802.8 L251.1,812.5 L264.8,820.4 L260.9,828.2 L274.6,836.0"/>
<path d="M276.5,832.1 L284.3,814.5 L290.0,812.0"/>
<path d="M463.7,508.0 L463.7,510.9 L467.6,522.6 L457.8,571.4 L448.0,583.2 L434.4,585.1"/>
<path d="M430.4,591.0 L430.4,606.6 L420.7,620.3 L422.6,630.0 L436.3,634.0 L442.2,645.7 L444.1,657.4 L432.4,665.2 L424.6,667.2 L420.7,655.4 L418.7,641.8 L407.0,637.9 L407.0,630.0 L397.2,624.2"/>
<path d="M487.1,540.2 L493.0,559.7 L494.9,571.4 L498.8,577.3 L500.8,592.9 L498.8,606.6 L491.0,618.3 L487.1,634.0 L471.5,641.8 L465.6,651.5 L459.8,661.3"/>
<path d="M512.5,592.9 L518.4,618.3 L514.5,630.0 L494.9,639.8 L485.2,645.7 L467.6,655.4"/>
<path d="M475.4,508.0 L475.4,510.9 L487.1,530.4 L500.0,537.0 L512.5,544.1 L522.3,524.5"/>
<path d="M424.5,664.1 L436.9,662.0 L449.2,668.3 L457.5,680.6 L465.8,686.8 L467.8,693.0"/>
<path d="M403.8,816.9 L408.0,822.0 L412.1,829.2"/>
<path d="M412.0,760.0 L413.0,770.0"/>
</g>
</g>
<rect x="53" y="508" width="470.5" height="335" fill="none" stroke="#000" stroke-width="2"/>
<rect x="416.3" y="715.3" width="106.2" height="127.7" fill="#fff" stroke="#000" stroke-width="2"/>
<g fill="none" stroke="#000" stroke-width="1.3">
<path d="M417.4,731.6 L427.4,733.1 L432.0,739.2 L442.8,740.8 L449.0,742.3 L458.2,737.7 L470.5,734.6 L481.3,730.0 L489.0,725.4 L495.1,720.8 L498.2,716.2" stroke-width="2.2"/>
<path d="M417.4,719.2 L427.4,719.2 L435.1,717.7 L442.8,722.3 L452.0,719.2 L458.2,725.4 L458.2,733.1" stroke-width="1.2"/>
<path d="M465.9,716.2 L465.9,719.2 L473.6,723.9 L479.7,722.3 L482.8,716.2" stroke-width="1.2"/>
<path d="M417.4,725.0 L425.0,727.0 L427.4,733.1" stroke-width="1.2"/>
<path d="M446.0,741.5 L446.0,746.5" stroke-width="1.2"/>
<ellipse cx="446.6" cy="753" rx="7" ry="5.2"/>
<path d="M503,722 L508,720.5 L509,727 L505,736 L502,738 L499,731 Z"/>
<circle cx="482.8" cy="745.4" r="0.9" fill="#000" stroke="none"/>
<path d="M455.2,767h2M458.2,765v2M460.2,768h2M457.2,769h1" stroke-width="1"/>
<ellipse cx="469" cy="770.8" rx="2.5" ry="1.5" fill="#000"/>
<path d="M443.3,767.8L445.3,773.8"/>
<path d="M497.2,753.2L499.2,759.2"/>
<circle cx="488.2" cy="774.7" r="0.9" fill="#000" stroke="none"/>
<path d="M494.1,769.3L496.1,775.3"/>
<path d="M492.6,790.1L494.6,796.1"/>
<path d="M447.2,789.4L449.2,795.4"/>
<path d="M467.5,799.3h2M470.5,797.3v2M472.5,800.3h2M469.5,801.3h1" stroke-width="1"/>
<path d="M475.2,802.4h2M478.2,800.4v2M480.2,803.4h2M477.2,804.4h1" stroke-width="1"/>
<path d="M458.3,808.5h2M461.3,806.5v2M463.3,809.5h2M460.3,810.5h1" stroke-width="1"/>
<path d="M444.4,813.1h2M447.4,811.1v2M449.4,814.1h2M446.4,815.1h1" stroke-width="1"/>
<path d="M477.2,811.7L479.2,817.7"/>
<path d="M436.4,816.3L438.4,822.3"/>
<path d="M458.7,820.9L460.7,826.9"/>
<ellipse cx="459" cy="834.7" rx="2.5" ry="1.5" fill="#000"/>
<path d="M463,811h2M466,809v2M468,812h2M465,813h1" stroke-width="1"/>
<path d="M451,810h2M454,808v2M456,811h2M453,812h1" stroke-width="1"/>
<path d="M505,730L507,736"/>
<path d="M501,739L503,745"/>
</g>
<path d="M125.9,843v8" stroke="#000" stroke-width="2"/>
<path d="M221.7,843v8" stroke="#000" stroke-width="2"/>
<path d="M315.4,843v8" stroke="#000" stroke-width="2"/>
<path d="M410.9,843v8" stroke="#000" stroke-width="2"/>
<path d="M511.1,843v8" stroke="#000" stroke-width="2"/>
<path d="M45,594.9h8" stroke="#000" stroke-width="2"/>
<path d="M45,691.4h8" stroke="#000" stroke-width="2"/>
<path d="M45,789.7h8" stroke="#000" stroke-width="2"/>
<text x="125.9" y="871.8" font-size="20" text-anchor="middle">90°E</text>
<text x="222.3" y="871.8" font-size="20" text-anchor="middle">100°E</text>
<text x="316" y="871.8" font-size="20" text-anchor="middle">110°E</text>
<text x="411.5" y="871.8" font-size="20" text-anchor="middle">120°E</text>
<text x="511.3" y="871.8" font-size="20" text-anchor="middle">130°E</text>
<text transform="translate(37.5,594.2) rotate(-90)" x="0" y="0" font-size="20" text-anchor="middle">40°N</text>
<text transform="translate(37.5,691.6) rotate(-90)" x="0" y="0" font-size="20" text-anchor="middle">30°N</text>
<text transform="translate(37.5,789.2) rotate(-90)" x="0" y="0" font-size="20" text-anchor="middle">20°N</text>
</g>
<defs><filter id="sbo" filterUnits="userSpaceOnUse" x="360" y="30" width="560" height="440" color-interpolation-filters="sRGB"><feTurbulence type="fractalNoise" baseFrequency="0.22" numOctaves="3" seed="11"/><feColorMatrix type="matrix" values="0 0 0 0 1.000 0 0 0 0 0.333 0 0 0 0 0.000 40 0 0 0 -29.67"/></filter><filter id="sby" filterUnits="userSpaceOnUse" x="360" y="30" width="560" height="440" color-interpolation-filters="sRGB"><feTurbulence type="fractalNoise" baseFrequency="0.25" numOctaves="3" seed="23"/><feColorMatrix type="matrix" values="0 0 0 0 1.000 0 0 0 0 1.000 0 0 0 0 0.000 40 0 0 0 -30.60"/></filter><filter id="sbb" filterUnits="userSpaceOnUse" x="360" y="30" width="560" height="440" color-interpolation-filters="sRGB"><feTurbulence type="fractalNoise" baseFrequency="0.3" numOctaves="3" seed="31"/><feColorMatrix type="matrix" values="0 0 0 0 0.545 0 0 0 0 0.353 0 0 0 0 0.267 40 0 0 0 -30.60"/></filter><filter id="smy" filterUnits="userSpaceOnUse" x="360" y="30" width="560" height="440" color-interpolation-filters="sRGB"><feTurbulence type="fractalNoise" baseFrequency="0.11" numOctaves="3" seed="41"/><feColorMatrix type="matrix" values="0 0 0 0 1.000 0 0 0 0 1.000 0 0 0 0 0.000 40 0 0 0 -21.47"/></filter><filter id="smy2" filterUnits="userSpaceOnUse" x="360" y="30" width="560" height="440" color-interpolation-filters="sRGB"><feTurbulence type="fractalNoise" baseFrequency="0.12" numOctaves="3" seed="42"/><feColorMatrix type="matrix" values="0 0 0 0 1.000 0 0 0 0 1.000 0 0 0 0 0.000 40 0 0 0 -22.48"/></filter><filter id="smb" filterUnits="userSpaceOnUse" x="360" y="30" width="560" height="440" color-interpolation-filters="sRGB"><feTurbulence type="fractalNoise" baseFrequency="0.16" numOctaves="3" seed="43"/><feColorMatrix type="matrix" values="0 0 0 0 0.545 0 0 0 0 0.353 0 0 0 0 0.267 40 0 0 0 -23.71"/></filter><filter id="smb2" filterUnits="userSpaceOnUse" x="360" y="30" width="560" height="440" color-interpolation-filters="sRGB"><feTurbulence type="fractalNoise" baseFrequency="0.2" numOctaves="3" seed="44"/><feColorMatrix type="matrix" values="0 0 0 0 0.545 0 0 0 0 0.353 0 0 0 0 0.267 40 0 0 0 -28.40"/></filter><filter id="smo" filterUnits="userSpaceOnUse" x="360" y="30" width="560" height="440" color-interpolation-filters="sRGB"><feTurbulence type="fractalNoise" baseFrequency="0.16" numOctaves="3" seed="47"/><feColorMatrix type="matrix" values="0 0 0 0 1.000 0 0 0 0 0.333 0 0 0 0 0.000 40 0 0 0 -27.20"/></filter><filter id="smo2" filterUnits="userSpaceOnUse" x="360" y="30" width="560" height="440" color-interpolation-filters="sRGB"><feTurbulence type="fractalNoise" baseFrequency="0.08" numOctaves="3" seed="48"/><feColorMatrix type="matrix" values="0 0 0 0 1.000 0 0 0 0 0.333 0 0 0 0 0.000 40 0 0 0 -22.24"/></filter><filter id="smg2" filterUnits="userSpaceOnUse" x="360" y="30" width="560" height="440" color-interpolation-filters="sRGB"><feTurbulence type="fractalNoise" baseFrequency="0.2" numOctaves="3" seed="46"/><feColorMatrix type="matrix" values="0 0 0 0 0.102 0 0 0 0 0.651 0 0 0 0 0.886 40 0 0 0 -28.40"/></filter><filter id="smg" filterUnits="userSpaceOnUse" x="360" y="30" width="560" height="440" color-interpolation-filters="sRGB"><feTurbulence type="fractalNoise" baseFrequency="0.3" numOctaves="2" seed="49"/><feColorMatrix type="matrix" values="0 0 0 0 0.102 0 0 0 0 0.651 0 0 0 0 0.886 40 0 0 0 -30.42"/></filter><filter id="smn" filterUnits="userSpaceOnUse" x="360" y="30" width="560" height="440" color-interpolation-filters="sRGB"><feTurbulence type="fractalNoise" baseFrequency="0.3" numOctaves="2" seed="45"/><feColorMatrix type="matrix" values="0 0 0 0 0.494 0 0 0 0 0.878 0 0 0 0 0.125 40 0 0 0 -30.60"/></filter><filter id="s2y" filterUnits="userSpaceOnUse" x="360" y="30" width="560" height="440" color-interpolation-filters="sRGB"><feTurbulence type="fractalNoise" baseFrequency="0.12" numOctaves="3" seed="51"/><feColorMatrix type="matrix" values="0 0 0 0 1.000 0 0 0 0 1.000 0 0 0 0 0.000 40 0 0 0 -24.00"/></filter><filter id="s2b" filterUnits="userSpaceOnUse" x="360" y="30" width="560" height="440" color-interpolation-filters="sRGB"><feTurbulence type="fractalNoise" baseFrequency="0.16" numOctaves="3" seed="53"/><feColorMatrix type="matrix" values="0 0 0 0 0.545 0 0 0 0 0.353 0 0 0 0 0.267 40 0 0 0 -26.74"/></filter><filter id="s2o" filterUnits="userSpaceOnUse" x="360" y="30" width="560" height="440" color-interpolation-filters="sRGB"><feTurbulence type="fractalNoise" baseFrequency="0.14" numOctaves="3" seed="57"/><feColorMatrix type="matrix" values="0 0 0 0 1.000 0 0 0 0 0.333 0 0 0 0 0.000 40 0 0 0 -28.40"/></filter><filter id="swc" filterUnits="userSpaceOnUse" x="360" y="30" width="560" height="440" color-interpolation-filters="sRGB"><feTurbulence type="fractalNoise" baseFrequency="0.18" numOctaves="3" seed="61"/><feColorMatrix type="matrix" values="0 0 0 0 0.102 0 0 0 0 0.651 0 0 0 0 0.886 40 0 0 0 -23.20"/></filter><filter id="swb" filterUnits="userSpaceOnUse" x="360" y="30" width="560" height="440" color-interpolation-filters="sRGB"><feTurbulence type="fractalNoise" baseFrequency="0.18" numOctaves="3" seed="63"/><feColorMatrix type="matrix" values="0 0 0 0 0.078 0 0 0 0 0.392 0 0 0 0 0.878 40 0 0 0 -25.00"/></filter><filter id="swy" filterUnits="userSpaceOnUse" x="360" y="30" width="560" height="440" color-interpolation-filters="sRGB"><feTurbulence type="fractalNoise" baseFrequency="0.2" numOctaves="3" seed="67"/><feColorMatrix type="matrix" values="0 0 0 0 1.000 0 0 0 0 1.000 0 0 0 0 0.000 40 0 0 0 -26.40"/></filter><filter id="swg" filterUnits="userSpaceOnUse" x="360" y="30" width="560" height="440" color-interpolation-filters="sRGB"><feTurbulence type="fractalNoise" baseFrequency="0.25" numOctaves="3" seed="69"/><feColorMatrix type="matrix" values="0 0 0 0 0.165 0 0 0 0 0.604 0 0 0 0 0.290 40 0 0 0 -28.00"/></filter><filter id="hilln" filterUnits="userSpaceOnUse" x="700" y="30" width="570" height="440" color-interpolation-filters="sRGB"><feTurbulence type="fractalNoise" baseFrequency="0.09" numOctaves="4" seed="7"/><feColorMatrix type="matrix" values="2.0 0 0 0 -0.62  2.0 0 0 0 -0.62  2.0 0 0 0 -0.62  0 0 0 0 1"/><feComponentTransfer><feFuncR type="table" tableValues="0.93 0.95 0.97 0.98 0.99 1 1 0.75 0.25 0.13 0.88"/><feFuncG type="table" tableValues="0.48 0.55 0.62 0.7 0.78 0.9 1 1 0.94 0.5 0.82"/><feFuncB type="table" tableValues="0 0 0 0 0 0 0 0.12 0.5 0.94 1"/></feComponentTransfer></filter><filter id="gspk" filterUnits="userSpaceOnUse" x="700" y="30" width="570" height="440" color-interpolation-filters="sRGB"><feTurbulence type="fractalNoise" baseFrequency="0.18" numOctaves="3" seed="17"/><feColorMatrix type="matrix" values="2.2 0 0 0 -0.52  2.2 0 0 0 -0.52  2.2 0 0 0 -0.52  2.2 0 0 0 -0.52"/><feComponentTransfer><feFuncR type="discrete" tableValues="0 0 0 0 1 0.6 0.25 0.2 0.1 0.15 0.85"/><feFuncG type="discrete" tableValues="0 0 0 0 1 1 0.95 0.9 0.75 0.3 0.85"/><feFuncB type="discrete" tableValues="0 0 0 0 0 0.1 0.35 0.4 0.8 1 1"/><feFuncA type="discrete" tableValues="0 0 0 0 1 1 1 1 1 1 1"/></feComponentTransfer></filter><filter id="cty" filterUnits="userSpaceOnUse" x="1070" y="380" width="70" height="50" color-interpolation-filters="sRGB"><feTurbulence type="fractalNoise" baseFrequency="0.35" numOctaves="2" seed="73"/><feColorMatrix type="matrix" values="0 0 0 0 0.973 0 0 0 0 0.878 0 0 0 0 0.376 40 0 0 0 -30.60"/></filter></defs>
</svg></body></html>
